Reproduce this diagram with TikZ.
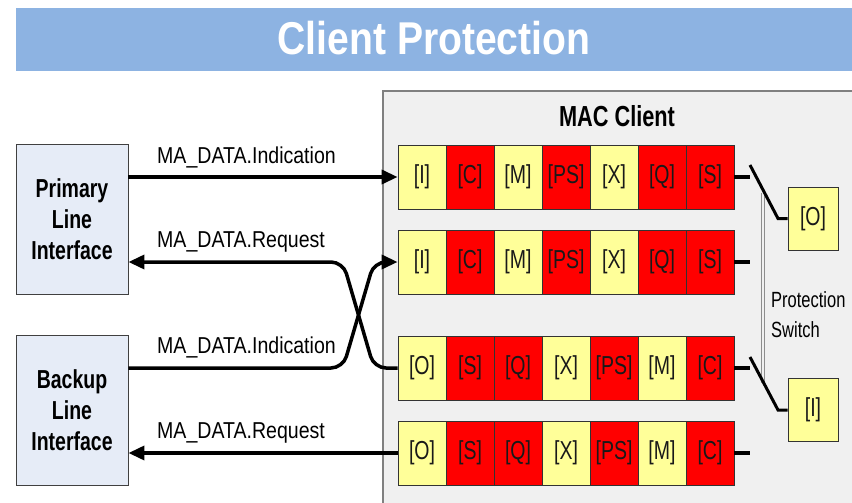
\documentclass[tikz,border=0pt]{standalone}
\usepackage{fontspec}
\setmainfont{Liberation Sans}
\newfontfamily\condA[FakeStretch=0.75]{Liberation Sans}
\newfontfamily\condB[FakeStretch=0.85]{Liberation Sans}
\usetikzlibrary{arrows.meta}

\definecolor{titleblue}{RGB}{141,179,226}
\definecolor{panelgray}{RGB}{240,240,240}
\definecolor{paneledge}{RGB}{128,128,128}
\definecolor{ifblue}{RGB}{230,236,247}
\definecolor{cellyellow}{RGB}{255,255,153}
\definecolor{cellred}{RGB}{255,0,0}

\tikzset{
  cell/.style={draw=black!80, line width=0.8pt, minimum width=48pt, minimum height=64pt,
    inner sep=0pt, text=black!90, font=\condA\fontsize{26}{28}\selectfont},
  swbox/.style={cell, fill=cellyellow, minimum width=50pt, minimum height=63pt},
  ifbox/.style={draw=black!75, line width=0.9pt, fill=ifblue, minimum width=112pt,
    minimum height=150pt, align=center, inner sep=0pt,
    font=\condA\bfseries\fontsize{26}{31}\selectfont},
  sig/.style={anchor=base west, inner sep=0pt, font=\condB\fontsize{23}{26}\selectfont},
  arr/.style={line width=3.5pt, -{Triangle[length=16pt,width=14pt]}},
  stub/.style={line width=4pt},
  lever/.style={line width=3pt},
}

\begin{document}
\begin{tikzpicture}[x=1pt, y=-1pt]
\useasboundingbox (0,0) rectangle (852,503);

% title banner
\fill[titleblue] (16,8) rectangle (852,71);
\node[anchor=base, text=white, inner sep=0pt, font=\condB\bfseries\fontsize{46}{50}\selectfont]
  (title) at (434,55) {Client Protection};

% MAC client panel
\fill[panelgray] (383,91) rectangle (852,503);
\draw[paneledge, line width=1.5pt] (383,503) -- (383,91) -- (852,91);
\node[anchor=base, inner sep=0pt, font=\condA\bfseries\fontsize{29}{32}\selectfont]
  (mac) at (617,126) {MAC Client};

% line interfaces
\node[ifbox] (prim) at (72,219) {Primary\\Line\\Interface};
\node[ifbox] (bkup) at (72,410) {Backup\\Line\\Interface};

% frame processing rows
\foreach \r/\yy in {1/177,2/262}{
  \foreach \t/\f [count=\i] in {I/cellyellow,C/cellred,M/cellyellow,PS/cellred,X/cellyellow,Q/cellred,S/cellred}
    \node[cell, fill=\f] (r\r-\i) at ({374+48*\i},\yy) {[\t]};
}
\foreach \r/\yy in {3/368,4/453}{
  \foreach \t/\f [count=\i] in {O/cellyellow,S/cellred,Q/cellred,X/cellyellow,PS/cellred,M/cellyellow,C/cellred}
    \node[cell, fill=\f] (r\r-\i) at ({374+48*\i},\yy) {[\t]};
}

% service primitives
\draw[arr] (prim.east |- r1-1.west) -- (r1-1.west);
\draw[arr, rounded corners=12pt] (r3-1.west) -- (374,368) -- (343,262) -- (prim.east |- r2-1.west);
\draw[arr, rounded corners=12pt] (bkup.east |- r3-1.west) -- (343,368) -- (374,262) -- (r2-1.west);
\draw[arr] (r4-1.west) -- (bkup.east |- r4-1.west);

\node[sig] (l1) at (157,163) {MA\_DATA.Indication};
\node[sig] (l2) at (157,247) {MA\_DATA.Request};
\node[sig] (l3) at (157,353) {MA\_DATA.Indication};
\node[sig] (l4) at (157,438) {MA\_DATA.Request};

% protection switch
\foreach \r in {1,2,3,4}
  \draw[stub] (r\r-7.east) -- ++(16,0);

\draw[paneledge!90, line width=0.9pt, double=panelgray, double distance=1.6pt] (763,193) -- (763,383);

\node[swbox] (pout) at (813,218.5) {[O]};
\node[swbox] (pin) at (813,410) {[I]};

\coordinate (lv1) at (750,165);
\coordinate (lv2) at (750,357);
\draw[lever] (lv1) -- (778,218.5) -- (pout.west);
\draw[lever] (lv2) -- (778,410) -- (pin.west);

\node[anchor=base west, inner sep=0pt, align=left, font=\condA\fontsize{22}{30}\selectfont]
  (psw) at (771,337) {Protection\\Switch};
\end{tikzpicture}
\end{document}
